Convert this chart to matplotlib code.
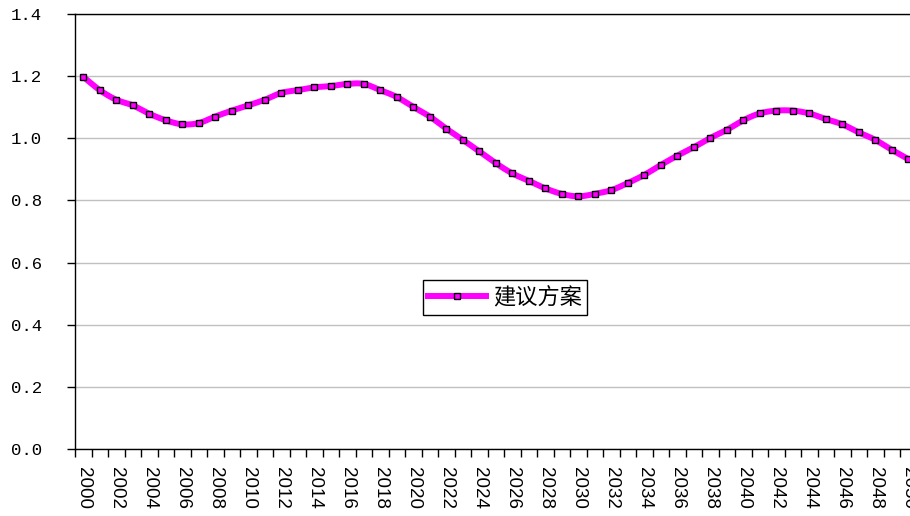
import numpy as np
import matplotlib
matplotlib.use('Agg')
import matplotlib.pyplot as plt

plt.rcParams['font.family'] = ['Noto Sans CJK SC', 'DejaVu Sans']

# 建议方案 series, one value per year 2000-2050
years = list(range(2000, 2051))
proposal = [
	1.198, 1.155, 1.124, 1.106, 1.079, 1.058, 1.045, 1.049, 1.070, 1.089,
	1.106, 1.124, 1.146, 1.155, 1.164, 1.168, 1.175, 1.175, 1.155, 1.133,
	1.101, 1.070, 1.031, 0.995, 0.958, 0.920, 0.887, 0.863, 0.839, 0.821,
	0.813, 0.821, 0.833, 0.856, 0.882, 0.914, 0.944, 0.971, 1.001, 1.027,
	1.058, 1.080, 1.089, 1.089, 1.080, 1.062, 1.045, 1.019, 0.995, 0.963,
	0.933,
]
series_name = '建议方案'
y_ticks = [0.0, 0.2, 0.4, 0.6, 0.8, 1.0, 1.2, 1.4]

def smooth(x, y, steps=12):
	# Catmull-Rom curve through the points, like a smoothed line chart
	x = np.asarray(x, float)
	y = np.asarray(y, float)
	px = np.concatenate([[2*x[0]-x[1]], x, [2*x[-1]-x[-2]]])
	py = np.concatenate([[2*y[0]-y[1]], y, [2*y[-1]-y[-2]]])
	t = np.linspace(0, 1, steps, endpoint=False)[:, None]
	def seg(p):
		p0, p1, p2, p3 = p[:-3], p[1:-2], p[2:-1], p[3:]
		return 0.5*((2*p1) + (-p0+p2)*t + (2*p0-5*p1+4*p2-p3)*t**2 + (-p0+3*p1-3*p2+p3)*t**3)
	sx = np.append(seg(px).T.ravel(), x[-1])
	sy = np.append(seg(py).T.ravel(), y[-1])
	return sx, sy

fig = plt.figure(figsize=(9.1, 5.16), dpi=100)
ax = fig.add_axes([75/910, 1-449/516, 841.5/910, 435/516])

idx = np.arange(len(years))
sx, sy = smooth(idx, proposal)
ax.plot(sx, sy, color='#ff00ff', linewidth=4.3, solid_capstyle='round', zorder=3)
ax.plot(idx, proposal, linestyle='none', marker='s', markersize=4.8,
	markerfacecolor='#ff00ff', markeredgecolor='black', markeredgewidth=1.0, zorder=4)
handle, = ax.plot([], [], color='#ff00ff', linewidth=4.3, marker='s', markersize=4.8,
	markerfacecolor='#ff00ff', markeredgecolor='black', markeredgewidth=1.0)

ax.set_xlim(-0.5, len(years)-0.5)
ax.set_ylim(0, 1.4)

ax.set_yticks(y_ticks)
ax.set_yticklabels(['%.1f' % v for v in y_ticks], family='Liberation Mono', fontsize=12.5)
ax.yaxis.grid(True, color='#c0c0c0', linewidth=1)
ax.tick_params(axis='y', direction='out', length=6, width=1, pad=18, colors='black')

# labels every second year, tick marks between every category
ax.set_xticks(idx[::2])
ax.set_xticklabels([str(y) for y in years[::2]], rotation=-90, family='Liberation Sans', fontsize=13.5)
ax.set_xticks(np.arange(-0.5, len(years)), minor=True)
ax.tick_params(axis='x', which='major', length=0, pad=13)
ax.tick_params(axis='x', which='minor', direction='out', length=6, width=1)

for s in ['left', 'bottom', 'top']:
	ax.spines[s].set_color('black')
	ax.spines[s].set_linewidth(1)
ax.spines['right'].set_visible(False)

leg = fig.legend([handle], [series_name], loc='center', bbox_to_anchor=(505/910, 1-297.5/516),
	fontsize=16, handlelength=2.6, handletextpad=0.3, borderpad=0.25,
	fancybox=False, framealpha=1, edgecolor='black')
leg.get_frame().set_linewidth(1)

fig.savefig('out.png', dpi=100)
